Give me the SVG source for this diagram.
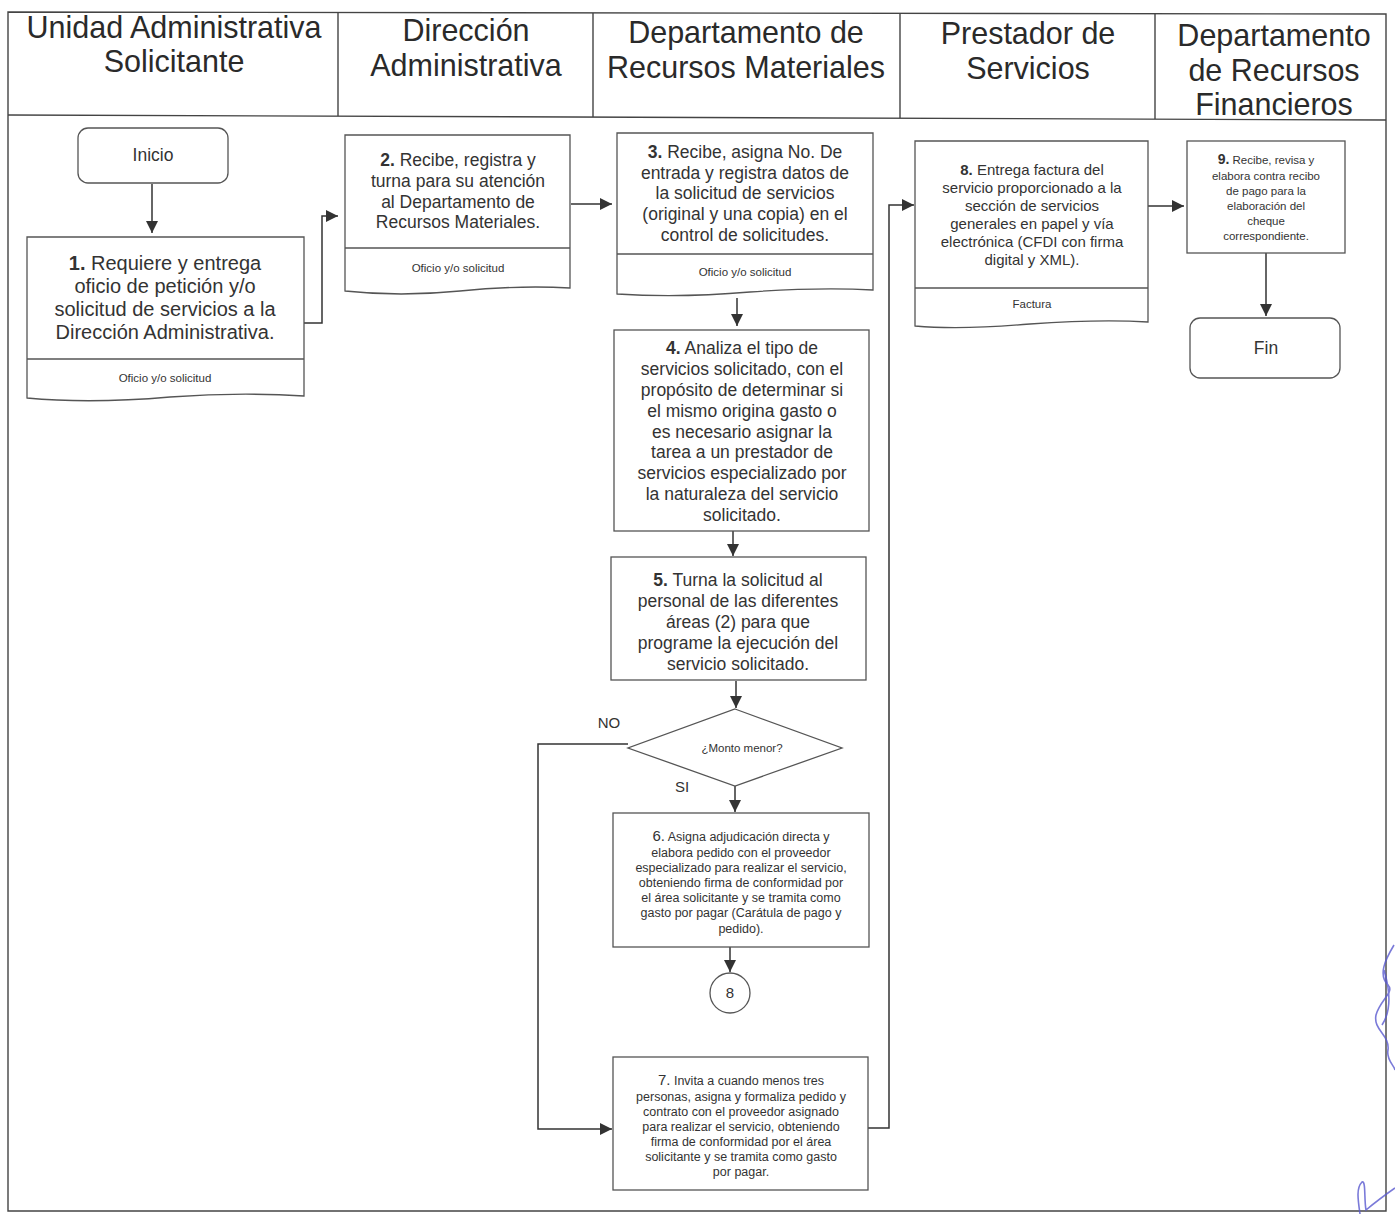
<svg xmlns="http://www.w3.org/2000/svg" width="1395" height="1214" viewBox="0 0 1395 1214">
<style>
.frame{fill:none;stroke:#444;stroke-width:1.4}
.box{fill:#fff;stroke:#555;stroke-width:1.3}
.div{stroke:#555;stroke-width:1.3}
.ln{fill:none;stroke:#333;stroke-width:1.5}
.hd{font-family:"Liberation Sans",Arial,sans-serif;font-size:30.5px;fill:#2a2a2a;text-anchor:middle}
.t{font-family:"Liberation Sans",Arial,sans-serif;fill:#333;text-anchor:middle}
.t20{font-size:20px}
.t17{font-size:17.5px}
.t15{font-size:15px}
.t12{font-size:12.5px}
.t11{font-size:11.5px}
.b{font-weight:bold}
</style>
<defs>
<marker id="ah" viewBox="0 0 12 12" refX="12" refY="6" markerWidth="12" markerHeight="12" markerUnits="userSpaceOnUse" orient="auto">
<path d="M0,0 L12,6 L0,12 Z" fill="#333"/>
</marker>
</defs>
<rect width="1395" height="1214" fill="#fff"/>
<g id="lanes">
<path class="frame" d="M8,12 L1386,14 L1386,1211 L8,1211 Z"/>
<line class="frame" x1="8" y1="115" x2="1386" y2="120"/>
<line class="frame" x1="338" y1="12" x2="338" y2="116"/>
<line class="frame" x1="593" y1="13" x2="593" y2="117"/>
<line class="frame" x1="900" y1="13" x2="900" y2="118"/>
<line class="frame" x1="1155" y1="14" x2="1155" y2="119"/>
<text class="hd" x="174" y="38">Unidad Administrativa</text>
<text class="hd" x="174" y="72">Solicitante</text>
<text class="hd" x="466" y="41">Dirección</text>
<text class="hd" x="466" y="76">Administrativa</text>
<text class="hd" x="746" y="43">Departamento de</text>
<text class="hd" x="746" y="78">Recursos Materiales</text>
<text class="hd" x="1028" y="44">Prestador de</text>
<text class="hd" x="1028" y="79">Servicios</text>
<text class="hd" x="1274" y="46">Departamento</text>
<text class="hd" x="1274" y="81">de Recursos</text>
<text class="hd" x="1274" y="115">Financieros</text>
</g>
<g id="connectors">
<path class="ln" d="M152,184 V233" marker-end="url(#ah)"/>
<path class="ln" d="M304,323 H322 V216 H338" marker-end="url(#ah)"/>
<path class="ln" d="M571,204 H612" marker-end="url(#ah)"/>
<path class="ln" d="M737,298 V326" marker-end="url(#ah)"/>
<path class="ln" d="M733,531 V556" marker-end="url(#ah)"/>
<path class="ln" d="M736,681 V708" marker-end="url(#ah)"/>
<path class="ln" d="M628,744 H538 V1129 H612" marker-end="url(#ah)"/>
<path class="ln" d="M735,786 V812" marker-end="url(#ah)"/>
<path class="ln" d="M730,947 V972" marker-end="url(#ah)"/>
<path class="ln" d="M868,1128 H889 V205 H914" marker-end="url(#ah)"/>
<path class="ln" d="M1148,206 H1184" marker-end="url(#ah)"/>
<path class="ln" d="M1266,253 V316" marker-end="url(#ah)"/>
<text class="t t15" x="609" y="728">NO</text>
<text class="t t15" x="682" y="792">SI</text>
</g>
<g id="inicio">
<rect class="box" x="78" y="128" width="150" height="55" rx="10"/>
<text class="t t17" x="153" y="161">Inicio</text>
</g>
<g id="n1">
<path class="box" d="M27,237 H304 V396 Q240,392 170,397 Q90,404 27,398 Z"/>
<line class="div" x1="27" y1="359" x2="304" y2="359"/>
<text class="t t20" x="165" y="270"><tspan class="b">1.</tspan> Requiere y entrega</text>
<text class="t t20" x="165" y="293">oficio de petición y/o</text>
<text class="t t20" x="165" y="316">solicitud de servicios a la</text>
<text class="t t20" x="165" y="339">Dirección Administrativa.</text>
<text class="t t11" x="165" y="382">Oficio y/o solicitud</text>
</g>
<g id="n2">
<path class="box" d="M345,135 H570 V288 Q520,285 460,291 Q400,297 345,291 Z"/>
<line class="div" x1="345" y1="248" x2="570" y2="248"/>
<text class="t t17" x="458" y="166"><tspan class="b">2.</tspan> Recibe, registra y</text>
<text class="t t17" x="458" y="187">turna para su atención</text>
<text class="t t17" x="458" y="208">al Departamento de</text>
<text class="t t17" x="458" y="228">Recursos Materiales.</text>
<text class="t t11" x="458" y="272">Oficio y/o solicitud</text>
</g>
<g id="n3">
<path class="box" d="M617,133 H873 V290 Q820,287 750,292 Q680,298 617,294 Z"/>
<line class="div" x1="617" y1="254" x2="873" y2="254"/>
<text class="t t17" x="745" y="158"><tspan class="b">3.</tspan> Recibe, asigna No. De</text>
<text class="t t17" x="745" y="179">entrada y registra datos de</text>
<text class="t t17" x="745" y="199">la solicitud de servicios</text>
<text class="t t17" x="745" y="220">(original y una copia) en el</text>
<text class="t t17" x="745" y="241">control de solicitudes.</text>
<text class="t t11" x="745" y="276">Oficio y/o solicitud</text>
</g>
<g id="n4">
<rect class="box" x="614" y="330" width="255" height="201"/>
<text class="t t17" x="742" y="354"><tspan class="b">4.</tspan>  Analiza el tipo de</text>
<text class="t t17" x="742" y="375">servicios solicitado, con el</text>
<text class="t t17" x="742" y="396">propósito de determinar si</text>
<text class="t t17" x="742" y="417">el mismo origina gasto o</text>
<text class="t t17" x="742" y="438">es necesario asignar la</text>
<text class="t t17" x="742" y="458">tarea a un prestador de</text>
<text class="t t17" x="742" y="479">servicios especializado por</text>
<text class="t t17" x="742" y="500">la naturaleza del servicio</text>
<text class="t t17" x="742" y="521">solicitado.</text>
</g>
<g id="n5">
<rect class="box" x="611" y="557" width="255" height="123"/>
<text class="t t17" x="738" y="586"><tspan class="b">5.</tspan> Turna la solicitud al</text>
<text class="t t17" x="738" y="607">personal de las diferentes</text>
<text class="t t17" x="738" y="628">áreas (2) para que</text>
<text class="t t17" x="738" y="649">programe la ejecución del</text>
<text class="t t17" x="738" y="670">servicio solicitado.</text>
</g>
<g id="decision">
<path class="box" d="M735,709 L842,748 L735,786 L628,748 Z"/>
<text class="t t11" x="742" y="752">¿Monto menor?</text>
</g>
<g id="n6">
<rect class="box" x="613" y="813" width="256" height="134"/>
<text class="t t12" x="741" y="841"><tspan font-size="15px">6.</tspan> Asigna adjudicación directa y</text>
<text class="t t12" x="741" y="857">elabora pedido con el proveedor</text>
<text class="t t12" x="741" y="872">especializado para realizar el servicio,</text>
<text class="t t12" x="741" y="887">obteniendo firma de conformidad por</text>
<text class="t t12" x="741" y="902">el área solicitante y se tramita como</text>
<text class="t t12" x="741" y="917">gasto por pagar (Carátula de pago y</text>
<text class="t t12" x="741" y="933">pedido).</text>
</g>
<g id="c8">
<circle class="box" cx="730" cy="993" r="20"/>
<text class="t t15" x="730" y="998">8</text>
</g>
<g id="n7">
<rect class="box" x="613" y="1057" width="255" height="133"/>
<text class="t t12" x="741" y="1085"><tspan font-size="15px">7.</tspan> Invita a cuando menos tres</text>
<text class="t t12" x="741" y="1101">personas, asigna y formaliza pedido y</text>
<text class="t t12" x="741" y="1116">contrato con el proveedor asignado</text>
<text class="t t12" x="741" y="1131">para realizar el servicio, obteniendo</text>
<text class="t t12" x="741" y="1146">firma de conformidad por el área</text>
<text class="t t12" x="741" y="1161">solicitante y se tramita como gasto</text>
<text class="t t12" x="741" y="1176">por pagar.</text>
</g>
<g id="n8">
<path class="box" d="M915,141 H1148 V322 Q1100,319 1030,324 Q960,330 915,326 Z"/>
<line class="div" x1="915" y1="288" x2="1148" y2="288"/>
<text class="t t15" x="1032" y="175"><tspan class="b">8.</tspan> Entrega factura del</text>
<text class="t t15" x="1032" y="193">servicio proporcionado a la</text>
<text class="t t15" x="1032" y="211">sección de servicios</text>
<text class="t t15" x="1032" y="229">generales en papel y vía</text>
<text class="t t15" x="1032" y="247">electrónica (CFDI con firma</text>
<text class="t t15" x="1032" y="265">digital y XML).</text>
<text class="t t11" x="1032" y="308">Factura</text>
</g>
<g id="n9">
<rect class="box" x="1187" y="141" width="158" height="112"/>
<text class="t t11" x="1266" y="164"><tspan class="b" font-size="14px">9.</tspan> Recibe, revisa y</text>
<text class="t t11" x="1266" y="180">elabora contra recibo</text>
<text class="t t11" x="1266" y="195">de pago para la</text>
<text class="t t11" x="1266" y="210">elaboración del</text>
<text class="t t11" x="1266" y="225">cheque</text>
<text class="t t11" x="1266" y="240">correspondiente.</text>
</g>
<g id="fin">
<rect class="box" x="1190" y="318" width="150" height="60" rx="10"/>
<text class="t t17" x="1266" y="354">Fin</text>
</g>
<g id="signature" fill="none" stroke="#5a5ad0" stroke-width="1.6" opacity="0.8">
<path d="M1394,945 C1385,960 1378,975 1388,985 C1395,992 1380,1000 1376,1015 C1373,1030 1390,1035 1388,1050 C1386,1060 1394,1065 1395,1070"/>
<path d="M1384,970 C1390,990 1392,1010 1382,1025"/>
<path d="M1360,1214 C1358,1200 1356,1188 1362,1182 C1366,1180 1364,1200 1366,1210 C1372,1205 1385,1195 1395,1188"/>
</g>
</svg>
